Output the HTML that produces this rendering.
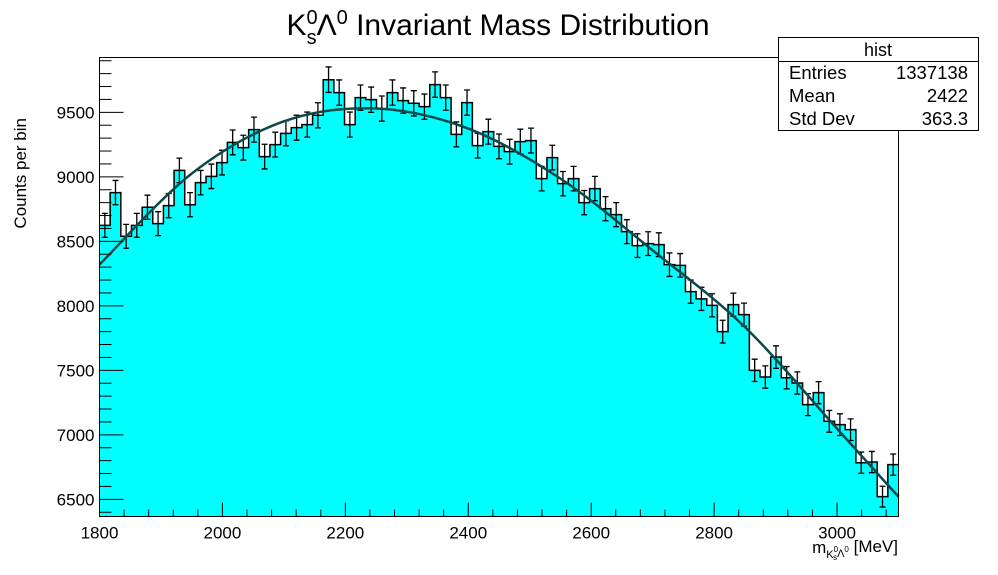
<!DOCTYPE html>
<html><head><meta charset="utf-8"><style>
body{margin:0;background:#fff;}
svg{display:block;font-family:"Liberation Sans",sans-serif;}
</style></head><body>
<svg id="c" width="998" height="575" viewBox="0 0 998 575" xmlns="http://www.w3.org/2000/svg">
<text x="498" y="35" font-size="30" text-anchor="middle">K<tspan font-size="20" dy="-11">0</tspan><tspan font-size="20" dx="-11" dy="20">s</tspan><tspan font-size="30" dy="-9">Λ</tspan><tspan font-size="20" dy="-11">0</tspan><tspan font-size="30" dy="11"> Invariant Mass Distribution</tspan></text>
<g id="plot"></g>
<text x="26" y="118" font-size="17" transform="rotate(-90 26 118)" text-anchor="end">Counts per bin</text>
<text x="898" y="553" font-size="17" text-anchor="end">m<tspan font-size="11" dy="5">K</tspan><tspan font-size="8" dy="-6">0</tspan><tspan font-size="8" dx="-5" dy="8">s</tspan><tspan font-size="11" dy="-3">Λ</tspan><tspan font-size="8" dy="-5">0</tspan><tspan font-size="17" dy="0"> [MeV]</tspan></text>
<g>
<rect x="778.5" y="37.5" width="200" height="93" fill="#fff" stroke="#000" stroke-width="1"/>
<line x1="778" y1="61.5" x2="978" y2="61.5" stroke="#000"/>
<text x="878" y="56" font-size="18" text-anchor="middle">hist</text>
<text x="789" y="79" font-size="18.5">Entries</text>
<text x="968" y="79" font-size="18.5" text-anchor="end">1337138</text>
<text x="789" y="102" font-size="18.5">Mean</text>
<text x="968" y="102" font-size="18.5" text-anchor="end">2422</text>
<text x="789" y="125" font-size="18.5">Std Dev</text>
<text x="968" y="125" font-size="18.5" text-anchor="end">363.3</text>
</g>
</svg>
<script>
const binCounts=[8624,8878,8539,8624,8764,8637,8777,9050,8784,8955,9004,9110,9267,9226,9366,9157,9250,9337,9381,9405,9477,9753,9653,9405,9614,9598,9529,9653,9591,9570,9544,9715,9614,9329,9575,9242,9350,9236,9195,9273,9281,8986,9149,8947,8986,8800,8909,8753,8707,8575,8467,8482,8474,8319,8314,8110,8054,8004,7800,8009,7932,7500,7448,7603,7443,7402,7234,7327,7105,7079,7040,6784,6789,6521,6769];
const fitX=[1800,1950,2100,2250,2400,2550,2700,2850,3000,3100];
const fitY=[8320,9025,9430,9530,9374,8986,8430,7836,7048,6520];
const xTickLabels=[1800,2000,2200,2400,2600,2800,3000];
const yTickLabels=[6500,7000,7500,8000,8500,9000,9500];
const xMin=1800,xMax=3100,yMin=6367,yMax=9925;
const L=99.5,R=898.5,T=57.5,B=516.5;
const NS="http://www.w3.org/2000/svg";
const g=document.getElementById('plot');
const sx=v=>L+(v-xMin)/(xMax-xMin)*(R-L);
const sy=v=>B-(v-yMin)/(yMax-yMin)*(B-T);
function mk(t,a){const e=document.createElementNS(NS,t);for(const k in a)e.setAttribute(k,a[k]);g.appendChild(e);return e;}
const n=binCounts.length,bw=(xMax-xMin)/n;
let d=`M${sx(xMin)},${B}`;
binCounts.forEach((v,i)=>{d+=`L${sx(xMin+i*bw)},${sy(v)}L${sx(xMin+(i+1)*bw)},${sy(v)}`;});
d+=`L${sx(xMax)},${B}Z`;
let p=mk('path',{d:d,fill:'#00ffff',stroke:'none'});


let od=`M${sx(xMin)},${sy(binCounts[0])}`;
binCounts.forEach((v,i)=>{od+=`L${sx(xMin+i*bw)},${sy(v)}L${sx(xMin+(i+1)*bw)},${sy(v)}`;});
p=mk('path',{d:od,fill:'none',stroke:'#000','stroke-width':1.5});


binCounts.forEach((v,i)=>{
 const cx=sx(xMin+(i+0.5)*bw),e=Math.sqrt(v);
 const y1=Math.max(sy(v+e),T),y2=sy(v-e);
 const eb=mk('path',{d:`M${cx},${y1}V${y2}M${cx-3},${y1}H${cx+3}M${cx-3},${y2}H${cx+3}`,stroke:'#000','stroke-width':1.3,fill:'none'});
 
 
});
const pts=fitX.map((x,i)=>[sx(x),sy(fitY[i])]);
let fd=`M${pts[0][0]},${pts[0][1]}`;
for(let i=0;i<pts.length-1;i++){
 const p0=pts[Math.max(i-1,0)],p1=pts[i],p2=pts[i+1],p3=pts[Math.min(i+2,pts.length-1)];
 fd+=`C${p1[0]+(p2[0]-p0[0])/6},${p1[1]+(p2[1]-p0[1])/6} ${p2[0]-(p3[0]-p1[0])/6},${p2[1]-(p3[1]-p1[1])/6} ${p2[0]},${p2[1]}`;
}
p=mk('path',{d:fd,fill:'none',stroke:'#0b4a4a','stroke-width':2.5});


p=mk('rect',{x:L,y:T,width:R-L,height:B-T,fill:'none',stroke:'#000','stroke-width':1});


for(let v=xMin;v<=xMax;v+=40){
 const major=(v-xMin)%200===0;
 mk('line',{x1:sx(v),x2:sx(v),y1:B,y2:B-(major?14:7),stroke:'#000'});
}
xTickLabels.forEach(v=>{
 const t=mk('text',{x:sx(v),y:B+22,'font-size':17,'text-anchor':'middle'});
 t.textContent=v;
 
 
});
for(let v=6400;v<=yMax;v+=100){
 if(v<yMin)continue;
 const major=v%500===0;
 mk('line',{x1:L,x2:L+(major?24:12),y1:sy(v),y2:sy(v),stroke:'#000'});
}
yTickLabels.forEach(v=>{
 const t=mk('text',{x:L-5,y:sy(v)+6,'font-size':17,'text-anchor':'end'});
 t.textContent=v;
 
 
});
</script>
</body></html>
